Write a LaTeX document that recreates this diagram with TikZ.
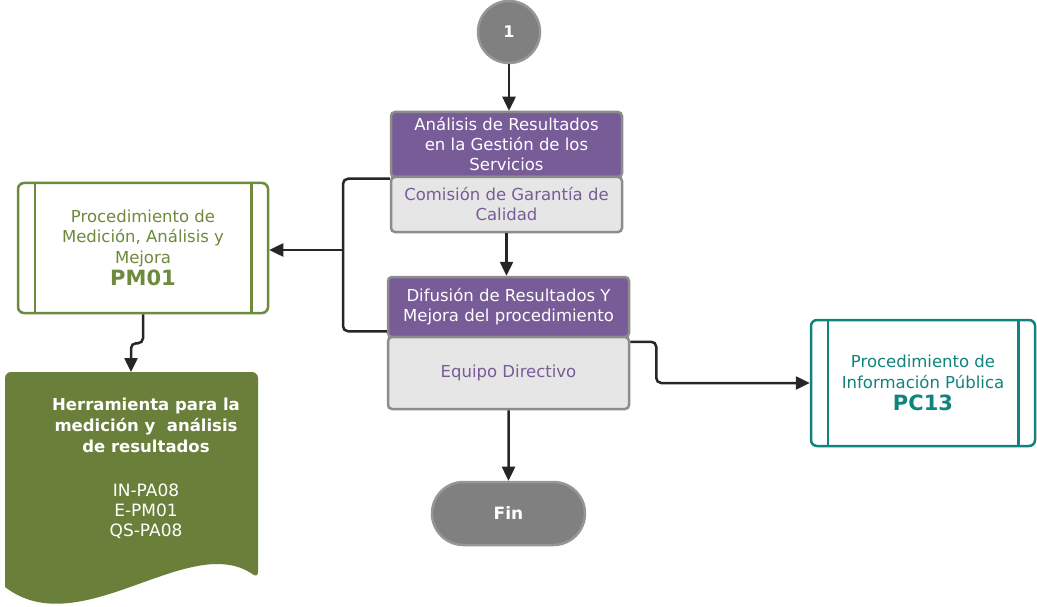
\documentclass[tikz,border=0pt]{standalone}
\usepackage{fontspec}
\setmainfont{DejaVu Sans}
\usetikzlibrary{calc}
\usetikzlibrary{arrows.meta}
\usetikzlibrary{shapes.misc}
\definecolor{lila}{RGB}{120,92,152}
\definecolor{gris}{RGB}{230,230,230}
\definecolor{borde}{RGB}{140,140,140}
\definecolor{oliva}{RGB}{110,138,60}
\definecolor{olivadoc}{RGB}{106,128,58}
\definecolor{verdeazul}{RGB}{16,132,124}
\definecolor{linea}{RGB}{38,38,38}
\definecolor{conect}{RGB}{128,128,128}
\definecolor{conectborde}{RGB}{150,150,150}
\newcommand{\sidebars}[2]{\draw[#2, line width=2.5pt] ($(#1.north west)+(18,0)$) -- ($(#1.south west)+(18,0)$);
\draw[#2, line width=2.5pt] ($(#1.north east)+(-18,0)$) -- ($(#1.south east)+(-18,0)$);}
\tikzset{
  header/.style={rectangle, rounded corners=4pt, draw=borde, line width=2.5pt, fill=lila, text=white, align=center, inner sep=0pt, font=\fontsize{16.5}{20}\selectfont},
  rolebox/.style={header, fill=gris, text=lila},
  procbox/.style={rectangle, rounded corners=6pt, line width=2.5pt, fill=white, align=center, inner sep=0pt, font=\fontsize{16.5}{20.5}\selectfont},
  conector/.style={circle, draw=conectborde, line width=2.5pt, fill=conect, text=white, inner sep=0pt, minimum size=62pt, font=\fontsize{16}{18}\selectfont\bfseries},
  fin/.style={rounded rectangle, draw=conectborde, line width=2.5pt, fill=conect, text=white, inner sep=0pt, minimum width=153pt, minimum height=63pt, font=\fontsize{17}{20}\selectfont\bfseries},
  conn/.style={draw=linea, line width=2.5pt, rounded corners=5pt, -{Triangle[length=14pt,width=13pt]}},
  plain/.style={draw=linea, line width=2.5pt, rounded corners=5pt}
}

\begin{document}
\begin{tikzpicture}[x=1pt,y=-1pt]
\useasboundingbox (0,0) rectangle (1037,607);

%nodes
\node[conector] (uno) at (509,32) {1};
\node[header, minimum width=231pt, minimum height=65pt] (anres) at (506.5,144.5) {Análisis de Resultados\\en la Gestión de los\\Servicios};
\node[rolebox, minimum width=231pt, minimum height=55pt] (anresrol) at (506.5,204.5) {Comisión de Garantía de\\Calidad};
\node[header, minimum width=241pt, minimum height=60pt] (difres) at (508.5,307) {Difusión de Resultados Y\\Mejora del procedimiento};
\node[rolebox, minimum width=241pt, minimum height=72pt] (difresrol) at (508.5,373) {Equipo Directivo};
\node[fin] (fin) at (508.5,513.5) {Fin};

\node[procbox, draw=oliva, text=oliva, minimum width=250pt, minimum height=130pt] (pm) at (143,248) {Procedimiento de\\Medición, Análisis y\\Mejora\\[2pt]{\fontsize{21}{24}\selectfont\bfseries PM01}};
\sidebars{pm}{oliva}
\node[procbox, draw=verdeazul, text=verdeazul, minimum width=224pt, minimum height=126pt] (pc) at (923,383) {Procedimiento de\\Información Pública\\[2pt]{\fontsize{21}{24}\selectfont\bfseries PC13}};
\sidebars{pc}{verdeazul}

% document shape
\fill[olivadoc, rounded corners=6pt] (5,587) -- (5,372) -- (258,372) -- (258,578) [sharp corners] .. controls (190,530) and (80,645) .. (5,587) -- cycle;
\node[text=white, align=center, font=\fontsize{16.5}{21}\selectfont\bfseries] (herr) at (146,425) {Herramienta para la\\medición y\ \ análisis\\de resultados};
\node[text=white, align=center, font=\fontsize{17}{20}\selectfont] (codigos) at (146,511) {IN-PA08\\E-PM01\\QS-PA08};
\coordinate (docin) at (131,372);
\coordinate (split) at (343,250);

%edges
\draw[conn] (uno) -- (uno |- anres.north);
\draw[conn] (anresrol.south) -- (anresrol.south |- difres.north);
\draw[conn] (difresrol) -- (fin);
\draw[plain] ($(anresrol.north west)+(0,3)$) -| (split) |- ($(difres.south west)+(0,-7)$);
\draw[conn] (split) -- (split -| pm.east);
\draw[conn] (pm.south) -- ++(0,29) -| (docin);
\draw[conn] ($(difresrol.north east)+(0,6)$) -- ++(26,0) |- (pc.west);
\end{tikzpicture}
\end{document}
